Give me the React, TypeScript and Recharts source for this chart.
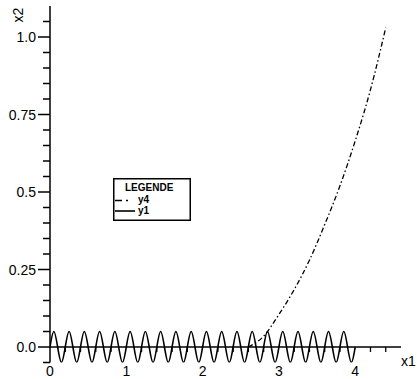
import { LineChart, Line, XAxis, YAxis, ReferenceLine, Legend } from "recharts";

// y1: small oscillation, sampled every 0.05 on x1
const y1X = [
  0, 0.05, 0.1, 0.15, 0.2, 0.25, 0.3, 0.35, 0.4, 0.45, 0.5, 0.55, 0.6, 0.65, 0.7, 0.75, 0.8, 0.85, 0.9, 0.95,
  1, 1.05, 1.1, 1.15, 1.2, 1.25, 1.3, 1.35, 1.4, 1.45, 1.5, 1.55, 1.6, 1.65, 1.7, 1.75, 1.8, 1.85, 1.9, 1.95,
  2, 2.05, 2.1, 2.15, 2.2, 2.25, 2.3, 2.35, 2.4, 2.45, 2.5, 2.55, 2.6, 2.65, 2.7, 2.75, 2.8, 2.85, 2.9, 2.95,
  3, 3.05, 3.1, 3.15, 3.2, 3.25, 3.3, 3.35, 3.4, 3.45, 3.5, 3.55, 3.6, 3.65, 3.7, 3.75, 3.8, 3.85, 3.9, 3.95,
  4,
];
const y1Values = [
  0, 0.05, 0, -0.05, 0, 0.05, 0, -0.05, 0, 0.05, 0, -0.05, 0, 0.05, 0, -0.05, 0, 0.05, 0, -0.05,
  0, 0.05, 0, -0.05, 0, 0.05, 0, -0.05, 0, 0.05, 0, -0.05, 0, 0.05, 0, -0.05, 0, 0.05, 0, -0.05,
  0, 0.05, 0, -0.05, 0, 0.05, 0, -0.05, 0, 0.05, 0, -0.05, 0, 0.05, 0, -0.05, 0, 0.05, 0, -0.05,
  0, 0.05, 0, -0.05, 0, 0.05, 0, -0.05, 0, 0.05, 0, -0.05, 0, 0.05, 0, -0.05, 0, 0.05, 0, -0.05,
  0,
];

// y4: rising curve
const y4X = [2.6, 2.8, 3.0, 3.2, 3.4, 3.6, 3.8, 4.0, 4.2, 4.4];
const y4Values = [0, 0.035, 0.105, 0.185, 0.28, 0.395, 0.52, 0.665, 0.83, 1.03];

const legendOrder = ["y4", "y1"];

const xTicks = [0, 1, 2, 3, 4];
const xTickLabels = ["0", "1", "2", "3", "4"];
const xMinorTicks = [0.2, 0.4, 0.6, 0.8, 1.2, 1.4, 1.6, 1.8, 2.2, 2.4, 2.6, 2.8, 3.2, 3.4, 3.6, 3.8, 4.2, 4.4];

const yTicks = [
  -0.05, 0, 0.05, 0.1, 0.15, 0.2, 0.25, 0.3, 0.35, 0.4, 0.45, 0.5, 0.55, 0.6, 0.65, 0.7, 0.75, 0.8, 0.85, 0.9,
  0.95, 1, 1.05,
];
const yMajorTicks = [0, 0.25, 0.5, 0.75, 1];
const yMajorLabels = ["0.0", "0.25", "0.5", "0.75", "1.0"];

const y1Data = y1X.map((x, i) => ({ x, y: y1Values[i] }));
const y4Data = y4X.map((x, i) => ({ x, y: y4Values[i] }));

const FONT = "'Liberation Sans', Arial, sans-serif";
const Y4_DASH = "5 2.5 1.5 2.5";

function YTick(props: any) {
  const { x, y, payload } = props;
  const i = yMajorTicks.findIndex((m) => Math.abs(m - payload.value) < 1e-6);
  const len = i >= 0 ? 12 : 7;
  return (
    <g>
      <line x1={x - len} x2={x} y1={y} y2={y} stroke="#000" strokeWidth={1.5} />
      {i >= 0 && (
        <text x={x - 14} y={y} dy={5} textAnchor="end" fontFamily={FONT} fontSize={14} fill="#000">
          {yMajorLabels[i]}
        </text>
      )}
    </g>
  );
}

function XTick(props: any) {
  const { x, y, payload } = props;
  const i = xTicks.indexOf(payload.value);
  return (
    <text x={x} y={y + 13} textAnchor="middle" fontFamily={FONT} fontSize={14} fill="#000">
      {xTickLabels[i]}
    </text>
  );
}

function LegendBox(props: any) {
  const items = [...(props.payload || [])].sort(
    (a: any, b: any) => legendOrder.indexOf(a.value) - legendOrder.indexOf(b.value)
  );
  return (
    <svg width={78} height={43} style={{ display: "block" }}>
      <rect x={0.75} y={0.75} width={76.5} height={41.5} fill="#fff" stroke="#000" strokeWidth={1.5} />
      <text x={12} y={12.5} fontFamily={FONT} fontSize={10} fontWeight="bold" fill="#000">
        LEGENDE
      </text>
      {items.map((entry: any, k: number) => {
        const cy = 22.5 + k * 10.5;
        const dashed = entry.value === "y4";
        return (
          <g key={entry.value}>
            <line
              x1={2}
              x2={dashed ? 16 : 22}
              y1={cy}
              y2={cy}
              stroke="#000"
              strokeWidth={1.6}
              strokeDasharray={dashed ? "7 4 2 10" : undefined}
            />
            <text x={25} y={cy + 2.5} fontFamily={FONT} fontSize={10} fontWeight="bold" fill="#000">
              {entry.value}
            </text>
          </g>
        );
      })}
    </svg>
  );
}

export default function App() {
  return (
    <div style={{ position: "absolute", left: 0, top: 0, background: "#fff" }}>
      <LineChart width={417} height={379} margin={{ top: 6, right: 16, bottom: 0, left: 0 }}>
        <XAxis
          dataKey="x"
          type="number"
          domain={[0, 4.6]}
          ticks={xTicks}
          interval={0}
          axisLine={false}
          tickLine={false}
          tickSize={0}
          tickMargin={0}
          height={16.5}
          tick={<XTick />}
          allowDataOverflow
          label={{
            content: () => (
              <text x={401} y={366} fontFamily={FONT} fontSize={14} fill="#000">
                x1
              </text>
            ),
          }}
        />
        <YAxis
          type="number"
          domain={[-0.05, 1.1]}
          ticks={yTicks}
          interval={0}
          width={50}
          axisLine={{ stroke: "#000", strokeWidth: 1.5 }}
          tickLine={false}
          tickSize={0}
          tickMargin={0}
          tick={<YTick />}
          allowDataOverflow
          label={{
            content: () => (
              <text
                transform="translate(23,15) rotate(-90)"
                textAnchor="middle"
                fontFamily={FONT}
                fontSize={14}
                fill="#000"
              >
                x2
              </text>
            ),
          }}
        />
        <ReferenceLine y={0} stroke="#000" strokeWidth={1.5} />
        {xMinorTicks.map((v) => (
          <ReferenceLine
            key={v}
            segment={[
              { x: v, y: 0 },
              { x: v, y: -0.016 },
            ]}
            stroke="#000"
            strokeWidth={1.3}
          />
        ))}
        <Line
          name="y4"
          data={y4Data}
          dataKey="y"
          type="monotone"
          stroke="#000"
          strokeWidth={1.3}
          strokeDasharray={Y4_DASH}
          dot={false}
          isAnimationActive={false}
        />
        <Line
          name="y1"
          data={y1Data}
          dataKey="y"
          type="natural"
          stroke="#000"
          strokeWidth={1.6}
          dot={false}
          isAnimationActive={false}
        />
        <Legend
          layout="horizontal"
          verticalAlign="middle"
          align="center"
          content={<LegendBox />}
          wrapperStyle={{ left: 113, top: 178, width: 78, height: 43 }}
        />
      </LineChart>
    </div>
  );
}
